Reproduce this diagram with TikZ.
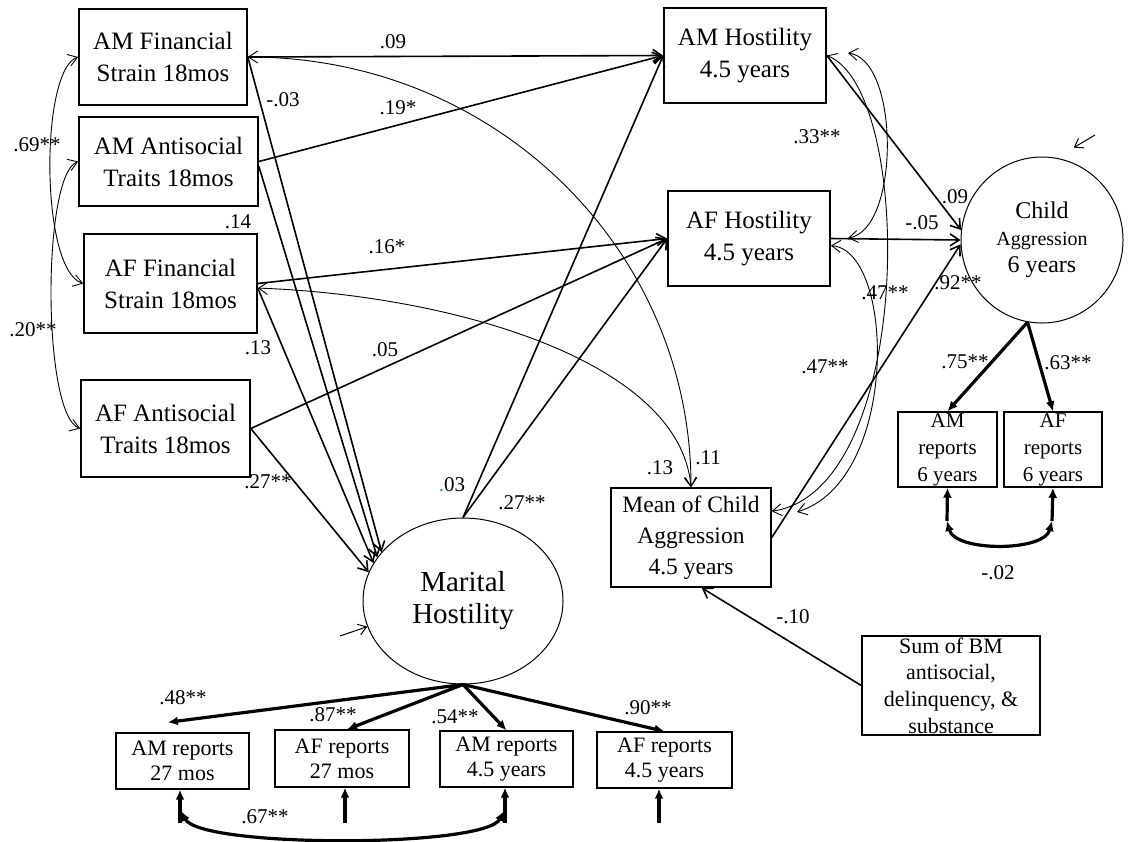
\documentclass[tikz,border=0pt]{standalone}
\usepackage{fontspec}
\setmainfont{Liberation Serif}
\usetikzlibrary{arrows.meta,shapes.geometric}
\begin{document}
\begin{tikzpicture}[x=0.5pt,y=-0.5pt,
box/.style={draw,line width=0.8pt,align=center,inner sep=0pt,font=\fontsize{12.5}{16}\selectfont},
rbox/.style={draw,line width=0.7pt,align=center,inner sep=0pt,font=\fontsize{11}{12.5}\selectfont},
latent/.style={draw,ellipse,line width=0.5pt,align=center,inner sep=0pt},
reg/.style={line width=0.8pt,-{Straight Barb[length=4.5pt,width=6pt]}},
corr/.style={line width=0.45pt,{Straight Barb[length=4.5pt,width=6pt]}-{Straight Barb[length=4.5pt,width=6pt]}},
load/.style={line width=1.6pt,-{Latex[length=5pt,width=4.5pt]}},
lcorr/.style={line width=1.6pt,{Latex[length=5pt,width=4.5pt]}-{Latex[length=5pt,width=4.5pt]}},
dist/.style={line width=0.5pt,-{Straight Barb[length=4pt,width=5.5pt]}},
coef/.style={inner sep=0pt,font=\fontsize{10.5}{12}\selectfont}]
\definecolor{color0}{HTML}{3A86D8}
\clip (0,0) rectangle (1144,841);
\node[box,minimum width=84pt,minimum height=48pt] (amfs) at (163,57) {AM Financial\\Strain 18mos};
\node[box,minimum width=89.5pt,minimum height=44.5pt] (amat) at (168.5,161.5) {AM Antisocial\\Traits 18mos};
\node[box,minimum width=86.5pt,minimum height=49.5pt] (affs) at (170.5,283.5) {AF Financial\\Strain 18mos};
\node[box,minimum width=84.5pt,minimum height=48.5pt] (afat) at (165.5,428.5) {AF Antisocial\\Traits 18mos};
\node[box,minimum width=81pt,minimum height=47.5pt] (amh) at (745,55.5) {AM Hostility\\4.5 years};
\node[box,minimum width=81pt,minimum height=47.5pt] (afh) at (749,238.5) {AF Hostility\\4.5 years};
\node[box,minimum width=80pt,minimum height=49.5pt,font=\fontsize{11.75}{15.5}\selectfont] (meanc) at (691,537.5) {Mean of Child\\Aggression\\4.5 years};
\node[latent,minimum width=81pt,minimum height=83pt,font=\fontsize{12}{13.5}\selectfont] (child) at (1042,240) {Child\\{\fontsize{10}{13.5}\selectfont Aggression}\\6 years};
\node[latent,minimum width=100pt,minimum height=83pt,font=\fontsize{14.5}{16}\selectfont] (mh) at (463,601) {Marital\\Hostility};
\node[rbox,minimum width=49.5pt,minimum height=37.5pt,font=\fontsize{10.5}{13.5}\selectfont] (am6) at (947.5,449.5) {AM\\reports\\6 years};
\node[rbox,minimum width=49pt,minimum height=37.5pt,font=\fontsize{10.5}{13.5}\selectfont] (af6) at (1053,449.5) {AF\\reports\\6 years};
\node[rbox,minimum width=89pt,minimum height=49.5pt,font=\fontsize{11}{13.3}\selectfont] (sumbm) at (951,685.5) {Sum of BM\\antisocial,\\delinquency, \&\\substance};
\node[rbox,minimum width=66.5pt,minimum height=28pt] (am27) at (182.5,761) {AM reports\\27 mos};
\node[rbox,minimum width=67pt,minimum height=28.5pt] (af27) at (342,758.5) {AF reports\\27 mos};
\node[rbox,minimum width=66.5pt,minimum height=28pt] (am45) at (506.5,759) {AM reports\\4.5 years};
\node[rbox,minimum width=67.5pt,minimum height=28pt] (af45) at (664.5,760) {AF reports\\4.5 years};
\coordinate (amhR) at (848,53);
\coordinate (afhR) at (848,238);
\coordinate (meanR) at (797,512);
\coordinate (e6a) at (947,521);
\coordinate (e6b) at (1052,521);
\coordinate (ea) at (180,823);
\coordinate (eb) at (345,823);
\coordinate (ec) at (505,823);
\coordinate (ed) at (659,823);
\coordinate (ka) at (181,811);
\coordinate (kb) at (504,811);
\coordinate (dmh) at (340,636);
\coordinate (dch) at (1095,135);
\draw[corr] (amfs.west) .. controls (40,70) and (40,270) .. (affs.west);
\draw[corr] (amat.west) .. controls (42,175) and (42,415) .. (afat.west);
\draw[reg] (amfs.east) -- (amh.west);
\draw[reg] (amat.east) -- (amh.west);
\draw[reg] (affs.east) -- (afh.west);
\draw[reg] (afat.east) -- (afh.west);
\draw[reg] (amfs.east) -- (mh.149);
\draw[reg] (amat.-3) -- (mh.153);
\draw[reg] (affs.-3) -- (mh.157);
\draw[reg] (afat.east) -- (mh.163);
\draw[reg] (mh.north) -- (amh.west);
\draw[reg] (mh.north) -- (afh.west);
\draw[corr] (amfs.east) .. controls (497,57) and (691,251) .. (meanc.north);
\draw[corr] (affs.-3) .. controls (450,295) and (680,360) .. (meanc.north);
\draw[corr] (amhR) .. controls (900,60) and (900,230) .. (afhR);
\draw[corr] (afh.-5) .. controls (895,250) and (900,480) .. (meanR);
\draw[corr] (amh.east) .. controls (915,90) and (915,490) .. (meanc.18);
\draw[reg] (amh.east) -- (child.173);
\draw[reg] (afh.east) -- (child.180);
\draw[reg] (meanc.east) -- (child.183);
\draw[reg] (sumbm.west) -- (meanc.-78);
\draw[load] (child.260) -- (am6.north);
\draw[load] (child.260) -- (af6.north);
\draw[load] (e6a) -- (am6.south);
\draw[load] (e6b) -- (af6.south);
\draw[lcorr] (e6a) .. controls (955,552) and (1044,552) .. (e6b);
\draw[load] (mh.south) -- ([yshift=5pt]am27.117);
\draw[load] (mh.south) -- (af27.80);
\draw[load] (mh.south) -- (am45.north);
\draw[load] (mh.south) -- (af45.north);
\draw[load] (ea) -- (ea |- am27.south);
\draw[load] (eb) -- (eb |- af27.south);
\draw[load] (ec) -- (ec |- am45.south);
\draw[load] (ed) -- (ed |- af45.south);
\draw[lcorr] (ka) .. controls (200,848) and (485,848) .. (kb);
\draw[dist] (dmh) -- (mh.195);
\draw[dist,shorten >=10pt] (dch) -- (child.80);
\node[coef] (w0) at (393,42) {.09};
\node[coef] (w1) at (283,100) {-.03};
\node[coef] (w2) at (398,108) {.19*};
\node[coef] (w3) at (238,222) {.14};
\node[coef] (w4) at (387,247) {.16*};
\node[coef] (w5) at (258,348) {.13};
\node[coef] (w6) at (385,350) {.05};
\node[coef] (w7) at (268,482) {.27**};
\node[coef] (w8) at (37,145) {.69**};
\node[coef] (w9) at (33,330) {.20**};
\node[coef] (w10) at (452,485) {{\color{color0}.}03};
\node[coef] (w11) at (522,503) {.27**};
\node[coef] (w12) at (660,468) {.13};
\node[coef] (w13) at (708,458) {.11};
\node[coef] (w14) at (817,137) {.33**};
\node[coef] (w15) at (955,197) {.09};
\node[coef] (w16) at (922,223) {-.05};
\node[coef] (w17) at (885,293) {.47**};
\node[coef] (w18) at (958,283) {.92**};
\node[coef] (w19) at (825,367) {.47**};
\node[coef] (w20) at (965,362) {.75**};
\node[coef] (w21) at (1068,363) {.63**};
\node[coef] (w22) at (998,573) {-.02};
\node[coef] (w23) at (793,617) {-.10};
\node[coef] (w24) at (183,698) {.48**};
\node[coef] (w25) at (333,715) {.87**};
\node[coef] (w26) at (455,717) {.54**};
\node[coef] (w27) at (648,708) {.90**};
\node[coef] (w28) at (265,817) {.67**};
\end{tikzpicture}
\end{document}
